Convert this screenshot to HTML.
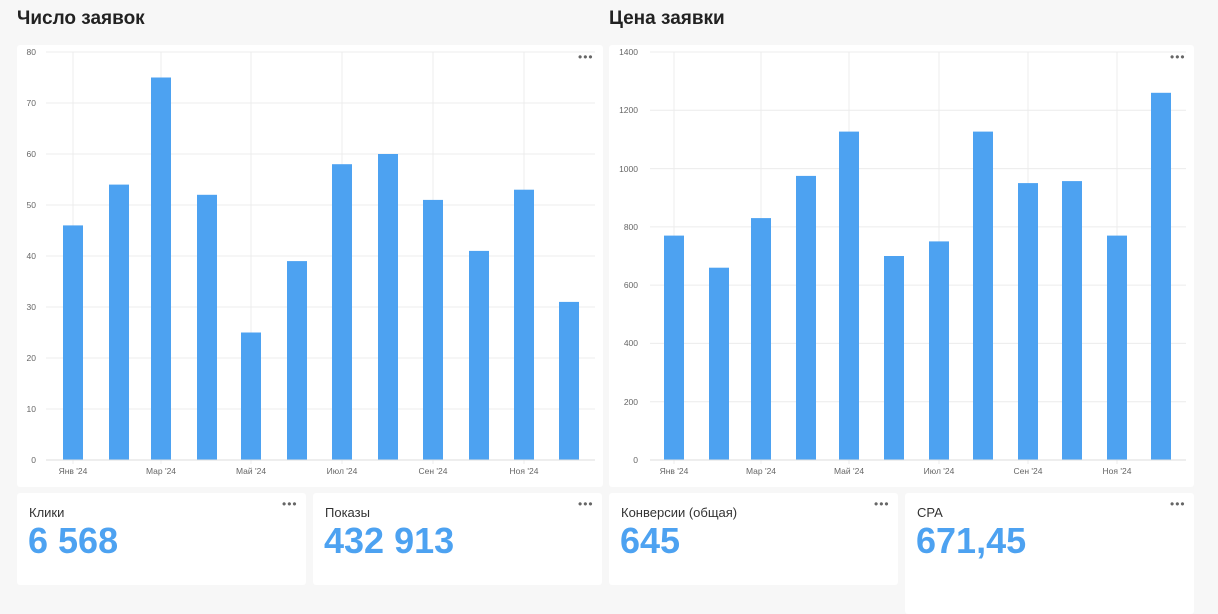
<!DOCTYPE html>
<html><head><meta charset="utf-8"><style>
body{margin:0;width:1218px;height:614px;background:#f7f7f7;font-family:"Liberation Sans","DejaVu Sans",sans-serif;position:relative;overflow:hidden}
.t{position:absolute;top:8px;font-size:19px;color:#222;font-weight:bold}
.p{position:absolute;background:#fff;border-radius:3px}
.lbl{position:absolute;font-size:13px;color:#333}
.num{position:absolute;font-size:36px;color:#4da2f1;font-weight:bold}
.dots{position:absolute;font-size:12px;color:#666;letter-spacing:1px}
</style></head><body>
<div class="t" style="left:17px">Число заявок</div>
<div class="t" style="left:609px">Цена заявки</div>
<div class="p" style="left:17px;top:45px;width:586px;height:442px"></div>
<div class="p" style="left:609px;top:45px;width:585px;height:442px"></div>
<div class="p" style="left:17px;top:493px;width:289px;height:92px"></div>
<div class="p" style="left:313px;top:493px;width:289px;height:92px"></div>
<div class="p" style="left:609px;top:493px;width:289px;height:92px"></div>
<div class="p" style="left:905px;top:493px;width:289px;height:121px"></div>
<div class="lbl" style="left:29px;top:505px">Клики</div><div class="num" style="left:28px;top:520px">6 568</div>
<div class="lbl" style="left:325px;top:505px">Показы</div><div class="num" style="left:324px;top:520px">432 913</div>
<div class="lbl" style="left:621px;top:505px">Конверсии (общая)</div><div class="num" style="left:620px;top:520px">645</div>
<div class="lbl" style="left:917px;top:505px">CPA</div><div class="num" style="left:916px;top:520px">671,45</div>
<div class="dots" style="left:282px;top:497px">•••</div><div class="dots" style="left:578px;top:497px">•••</div>
<div class="dots" style="left:874px;top:497px">•••</div><div class="dots" style="left:1170px;top:497px">•••</div>
<div class="dots" style="left:578px;top:50px">•••</div><div class="dots" style="left:1170px;top:50px">•••</div>
<svg width="1218" height="614" style="position:absolute;left:0;top:0" font-family="Liberation Sans,sans-serif" font-size="8.5" fill="#666">
<g stroke="#ececec">
<line x1="46" x2="595" y1="52" y2="52"/><line x1="46" x2="595" y1="103" y2="103"/><line x1="46" x2="595" y1="154" y2="154"/><line x1="46" x2="595" y1="205" y2="205"/><line x1="46" x2="595" y1="256" y2="256"/><line x1="46" x2="595" y1="307" y2="307"/><line x1="46" x2="595" y1="358" y2="358"/><line x1="46" x2="595" y1="409" y2="409"/>
<line x1="73" x2="73" y1="52" y2="464"/><line x1="161" x2="161" y1="52" y2="464"/><line x1="251" x2="251" y1="52" y2="464"/><line x1="342" x2="342" y1="52" y2="464"/><line x1="433" x2="433" y1="52" y2="464"/><line x1="524" x2="524" y1="52" y2="464"/>
<line x1="650" x2="1186" y1="52" y2="52"/><line x1="650" x2="1186" y1="110.3" y2="110.3"/><line x1="650" x2="1186" y1="168.6" y2="168.6"/><line x1="650" x2="1186" y1="226.9" y2="226.9"/><line x1="650" x2="1186" y1="285.1" y2="285.1"/><line x1="650" x2="1186" y1="343.4" y2="343.4"/><line x1="650" x2="1186" y1="401.7" y2="401.7"/>
<line x1="674" x2="674" y1="52" y2="464"/><line x1="761" x2="761" y1="52" y2="464"/><line x1="849" x2="849" y1="52" y2="464"/><line x1="939" x2="939" y1="52" y2="464"/><line x1="1028" x2="1028" y1="52" y2="464"/><line x1="1117" x2="1117" y1="52" y2="464"/>
</g>
<g fill="#4da2f1">
<rect x="63" y="225.4" width="20" height="234.6"/><rect x="109" y="184.6" width="20" height="275.4"/><rect x="151" y="77.5" width="20" height="382.5"/><rect x="197" y="194.8" width="20" height="265.2"/><rect x="241" y="332.5" width="20" height="127.5"/><rect x="287" y="261.1" width="20" height="198.9"/><rect x="332" y="164.2" width="20" height="295.8"/><rect x="378" y="154" width="20" height="306"/><rect x="423" y="199.9" width="20" height="260.1"/><rect x="469" y="250.9" width="20" height="209.1"/><rect x="514" y="189.7" width="20" height="270.3"/><rect x="559" y="301.9" width="20" height="158.1"/>
<rect x="664" y="235.6" width="20" height="224.4"/><rect x="709" y="267.7" width="20" height="192.3"/><rect x="751" y="218.1" width="20" height="241.9"/><rect x="796" y="175.9" width="20" height="284.1"/><rect x="839" y="131.6" width="20" height="328.4"/><rect x="884" y="256" width="20" height="204"/><rect x="929" y="241.4" width="20" height="218.6"/><rect x="973" y="131.6" width="20" height="328.4"/><rect x="1018" y="183.1" width="20" height="276.9"/><rect x="1062" y="181.1" width="20" height="278.9"/><rect x="1107" y="235.6" width="20" height="224.4"/><rect x="1151" y="92.8" width="20" height="367.2"/>
</g>
<line x1="46" x2="595" y1="460" y2="460" stroke="#ddd"/><line x1="650" x2="1186" y1="460" y2="460" stroke="#ddd"/>
<g text-anchor="end">
<text x="36" y="55">80</text><text x="36" y="106">70</text><text x="36" y="157">60</text><text x="36" y="208">50</text><text x="36" y="259">40</text><text x="36" y="310">30</text><text x="36" y="361">20</text><text x="36" y="412">10</text><text x="36" y="463">0</text>
<text x="638" y="55">1400</text><text x="638" y="113">1200</text><text x="638" y="172">1000</text><text x="638" y="230">800</text><text x="638" y="288">600</text><text x="638" y="346">400</text><text x="638" y="405">200</text><text x="638" y="463">0</text>
</g>
<g text-anchor="middle">
<text x="73" y="474">Янв '24</text><text x="161" y="474">Мар '24</text><text x="251" y="474">Май '24</text><text x="342" y="474">Июл '24</text><text x="433" y="474">Сен '24</text><text x="524" y="474">Ноя '24</text>
<text x="674" y="474">Янв '24</text><text x="761" y="474">Мар '24</text><text x="849" y="474">Май '24</text><text x="939" y="474">Июл '24</text><text x="1028" y="474">Сен '24</text><text x="1117" y="474">Ноя '24</text>
</g>
</svg>
</body></html>
